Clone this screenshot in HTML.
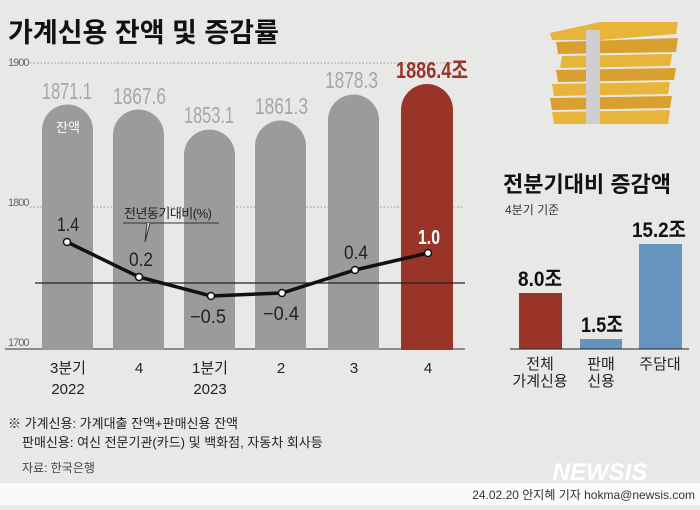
<!DOCTYPE html>
<html><head><meta charset="utf-8"><style>
body{margin:0;width:700px;height:505px;overflow:hidden;background:#e8e8e6}
text{font-family:"Liberation Sans","Noto Sans CJK KR",sans-serif}
</style></head><body>
<svg width="700" height="505" xmlns="http://www.w3.org/2000/svg">
<rect width="700" height="505" fill="#e8e8e6"/>
<text x="8" y="42" font-size="27" font-weight="bold" fill="#111">가계신용 잔액 및 증감률</text>
<g stroke="#999" stroke-dasharray="1.5,2" stroke-width="1">
<line x1="30" y1="63" x2="462" y2="63"/><line x1="30" y1="207" x2="462" y2="207"/></g>
<g font-size="11" fill="#666" letter-spacing="-1"><text x="8" y="66">1900</text><text x="8" y="206">1800</text><text x="8" y="346">1700</text></g>
<line x1="5" y1="349" x2="465" y2="349" stroke="#333"/>
<g fill="#9b9b9b">
<path d="M42 350V130a25.5 25.5 0 0 1 51 0V350z"/>
<path d="M113 350V135a25.5 25.5 0 0 1 51 0V350z"/>
<path d="M184 350V155a25.5 25.5 0 0 1 51 0V350z"/>
<path d="M255 350V146a25.5 25.5 0 0 1 51 0V350z"/>
<path d="M328 350V120a25.5 25.5 0 0 1 51 0V350z"/>
</g>
<path d="M401 350V110a26 26 0 0 1 52 0V350z" fill="#9b3428"/>
<g font-size="23" fill="#a6a6a6">
<text x="42" y="99" textLength="50" lengthAdjust="spacingAndGlyphs">1871.1</text>
<text x="113" y="104" textLength="53" lengthAdjust="spacingAndGlyphs">1867.6</text>
<text x="184" y="123" textLength="50" lengthAdjust="spacingAndGlyphs">1853.1</text>
<text x="255" y="114" textLength="53" lengthAdjust="spacingAndGlyphs">1861.3</text>
<text x="325" y="88" textLength="53" lengthAdjust="spacingAndGlyphs">1878.3</text>
</g>
<text x="396" y="78" font-size="23" font-weight="bold" fill="#9b3428" textLength="72" lengthAdjust="spacingAndGlyphs">1886.4조</text>
<text x="68" y="132" font-size="13" fill="#fff" text-anchor="middle">잔액</text>
<line x1="35" y1="283" x2="465" y2="283" stroke="#222" stroke-width="1.2"/>
<text x="124" y="218" font-size="13" fill="#222" letter-spacing="-0.5">전년동기대비(%)</text>
<line x1="123" y1="223" x2="219" y2="223" stroke="#333"/>
<path d="M147 223L145 242L150 223" fill="#e8e8e6" stroke="#333"/>
<polyline points="67,242 139,277 211,296 282,293 355,270 428,253" fill="none" stroke="#111" stroke-width="3.5"/>
<g fill="#fff" stroke="#111" stroke-width="1.5">
<circle cx="67" cy="242" r="3.5"/><circle cx="139" cy="277" r="3.5"/><circle cx="211" cy="296" r="3.5"/><circle cx="282" cy="293" r="3.5"/><circle cx="355" cy="270" r="3.5"/><circle cx="428" cy="253" r="3.5"/></g>
<g font-size="19" fill="#222">
<text x="57" y="231" textLength="22" lengthAdjust="spacingAndGlyphs">1.4</text>
<text x="129" y="266" textLength="24" lengthAdjust="spacingAndGlyphs">0.2</text>
<text x="190" y="323" textLength="36" lengthAdjust="spacingAndGlyphs">−0.5</text>
<text x="263" y="320" textLength="36" lengthAdjust="spacingAndGlyphs">−0.4</text>
<text x="344" y="259" textLength="24" lengthAdjust="spacingAndGlyphs">0.4</text>
</g>
<text x="418" y="244" font-size="20" fill="#fff" font-weight="bold" textLength="22" lengthAdjust="spacingAndGlyphs">1.0</text>
<g font-size="15" fill="#222" text-anchor="middle">
<text x="68" y="373">3분기</text><text x="68" y="394">2022</text><text x="139" y="373">4</text>
<text x="210" y="373">1분기</text><text x="210" y="394">2023</text><text x="281" y="373">2</text><text x="354" y="373">3</text><text x="428" y="373">4</text></g>
<text x="8" y="428" font-size="13" fill="#222">※ 가계신용: 가계대출 잔액+판매신용 잔액</text>
<text x="22" y="447" font-size="13" fill="#222">판매신용: 여신 전문기관(카드) 및 백화점, 자동차 회사등</text>
<text x="22" y="472" font-size="12" fill="#444">자료: 한국은행</text>
<g>
<polygon points="550,33 600,22 678,22 676,34 600,40 552,40" fill="#e8b53a"/>
<polygon points="556,42 678,38 676,52 558,54" fill="#d9a030"/>
<polygon points="562,56 672,54 670,66 560,68" fill="#e8b53a"/>
<polygon points="556,70 676,68 674,80 558,82" fill="#d9a030"/>
<polygon points="552,84 670,82 668,94 554,96" fill="#e8b53a"/>
<polygon points="550,98 672,96 670,108 552,110" fill="#d9a030"/>
<polygon points="552,112 670,110 668,124 554,124" fill="#e8b53a"/>
<rect x="586" y="30" width="14" height="94" fill="#cfcfcf"/>
</g>
<text x="503" y="192" font-size="22" font-weight="bold" fill="#111">전분기대비 증감액</text>
<text x="505" y="214" font-size="12" fill="#333">4분기 기준</text>
<rect x="519" y="293" width="43" height="56" fill="#9b3428"/>
<rect x="580" y="339" width="42" height="10" fill="#6595be"/>
<rect x="639" y="244" width="43" height="105" fill="#6595be"/>
<line x1="510" y1="349" x2="689" y2="349" stroke="#222"/>
<g font-size="21" font-weight="bold" fill="#111">
<text x="518" y="286" textLength="44" lengthAdjust="spacingAndGlyphs">8.0조</text>
<text x="581" y="332" textLength="42" lengthAdjust="spacingAndGlyphs">1.5조</text>
<text x="632" y="237" textLength="54" lengthAdjust="spacingAndGlyphs">15.2조</text></g>
<g font-size="15" fill="#222" text-anchor="middle">
<text x="540" y="369">전체</text><text x="540" y="386">가계신용</text>
<text x="601" y="369">판매</text><text x="601" y="386">신용</text><text x="660" y="369">주담대</text></g>
<rect x="0" y="483" width="700" height="22" fill="#fafafa"/>
<text x="600" y="480" font-size="24" font-weight="bold" font-style="italic" fill="#fff" text-anchor="middle">NEWSIS</text>
<text x="695" y="499" font-size="12" fill="#333" text-anchor="end">24.02.20 안지혜 기자 hokma@newsis.com</text>
</svg>
</body></html>
